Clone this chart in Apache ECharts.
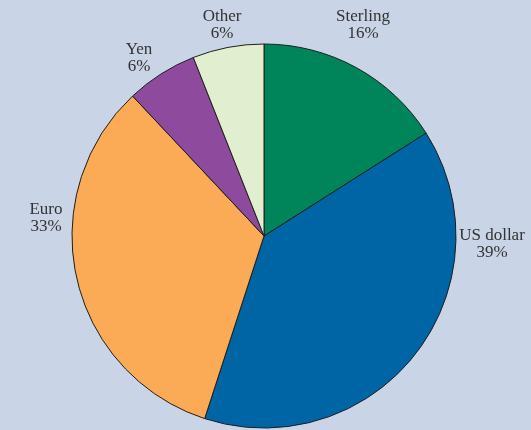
<!DOCTYPE html>
<html>
<head>
<meta charset="utf-8">
<script src="https://cdn.jsdelivr.net/npm/echarts@6/dist/echarts.min.js"></script>
<style>
  html, body { margin: 0; padding: 0; background: #c9d4e6; }
  #chart { width: 531px; height: 430px; }
</style>
</head>
<body>
<div id="chart"></div>
<script>
const categories = ['Sterling', 'US dollar', 'Euro', 'Yen', 'Other']
const shares = [16, 39, 33, 6, 6]
const colors = ['#00845a', '#0065a4', '#fbab55', '#8e4b9d', '#e2eed0']

// label anchor points (centre of the two-line label), picked by hand
const labelPos = [[363, 25], [492, 244], [46, 218], [139, 58], [222, 25]]

const chart = echarts.init(document.getElementById('chart'))

chart.setOption({
  backgroundColor: '#c9d4e6',
  animation: false,
  series: [{
    type: 'pie',
    center: [264, 236],
    radius: 192,
    startAngle: 90,
    clockwise: true,
    silent: true,
    itemStyle: { borderColor: '#1e1e1e', borderWidth: 1 },
    label: {
      show: true,
      position: 'outside',
      alignTo: 'none',
      overflow: 'none',
      formatter: p => p.name + '\n' + p.value + '%',
      fontFamily: 'Liberation Serif',
      fontSize: 17,
      lineHeight: 17,
      color: '#333',
      align: 'center'
    },
    labelLine: { show: false },
    labelLayout: params => {
      const p = labelPos[params.dataIndex]
      return { x: p[0], y: p[1], align: 'center', verticalAlign: 'middle' }
    },
    data: categories.map((name, i) => ({
      name,
      value: shares[i],
      itemStyle: { color: colors[i] }
    }))
  }]
})
</script>
</body>
</html>
